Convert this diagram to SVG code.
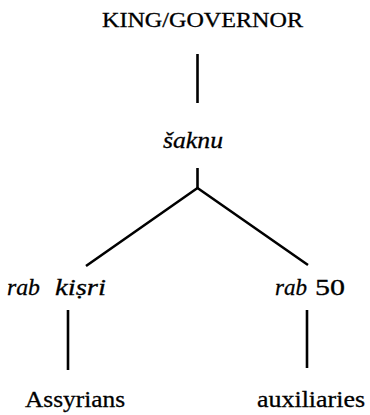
<svg xmlns="http://www.w3.org/2000/svg" width="370" height="415" viewBox="0 0 370 415">
<style>
text{font-family:"Liberation Serif","Times New Roman",serif;fill:#000;stroke:#000;stroke-width:0.3}
.it{font-style:italic}
.ln{stroke:#000;stroke-width:2.6;fill:none;stroke-linecap:butt}
</style>
<rect width="370" height="415" fill="#fff"/>
<g id="connectors">
<line class="ln" x1="197.5" y1="54" x2="197.5" y2="103"/>
<polyline class="ln" points="86,266 197.5,188 308,265"/>
<line class="ln" x1="197.5" y1="168" x2="197.5" y2="188"/>
<line class="ln" x1="68" y1="310" x2="68" y2="370"/>
<line class="ln" x1="307" y1="310" x2="307" y2="368"/>
</g>
<g id="king"><text x="102" y="27" font-size="21" textLength="201" lengthAdjust="spacingAndGlyphs">KING/GOVERNOR</text></g>
<g id="saknu"><text class="it" x="163" y="148" font-size="24" textLength="60" lengthAdjust="spacingAndGlyphs">šaknu</text></g>
<g id="rabkisri"><text class="it" y="295" font-size="24"><tspan x="7" textLength="33" lengthAdjust="spacingAndGlyphs">rab</tspan><tspan x="55" textLength="51" lengthAdjust="spacingAndGlyphs">kiṣri</tspan></text></g>
<g id="rab50"><text y="295" font-size="24"><tspan class="it" x="275" textLength="32" lengthAdjust="spacingAndGlyphs">rab</tspan><tspan x="315" textLength="30" lengthAdjust="spacingAndGlyphs">50</tspan></text></g>
<g id="assyrians"><text x="25" y="407" font-size="24" textLength="100" lengthAdjust="spacingAndGlyphs">Assyrians</text></g>
<g id="auxiliaries"><text x="257" y="407" font-size="24" textLength="108" lengthAdjust="spacingAndGlyphs">auxiliaries</text></g>
</svg>
